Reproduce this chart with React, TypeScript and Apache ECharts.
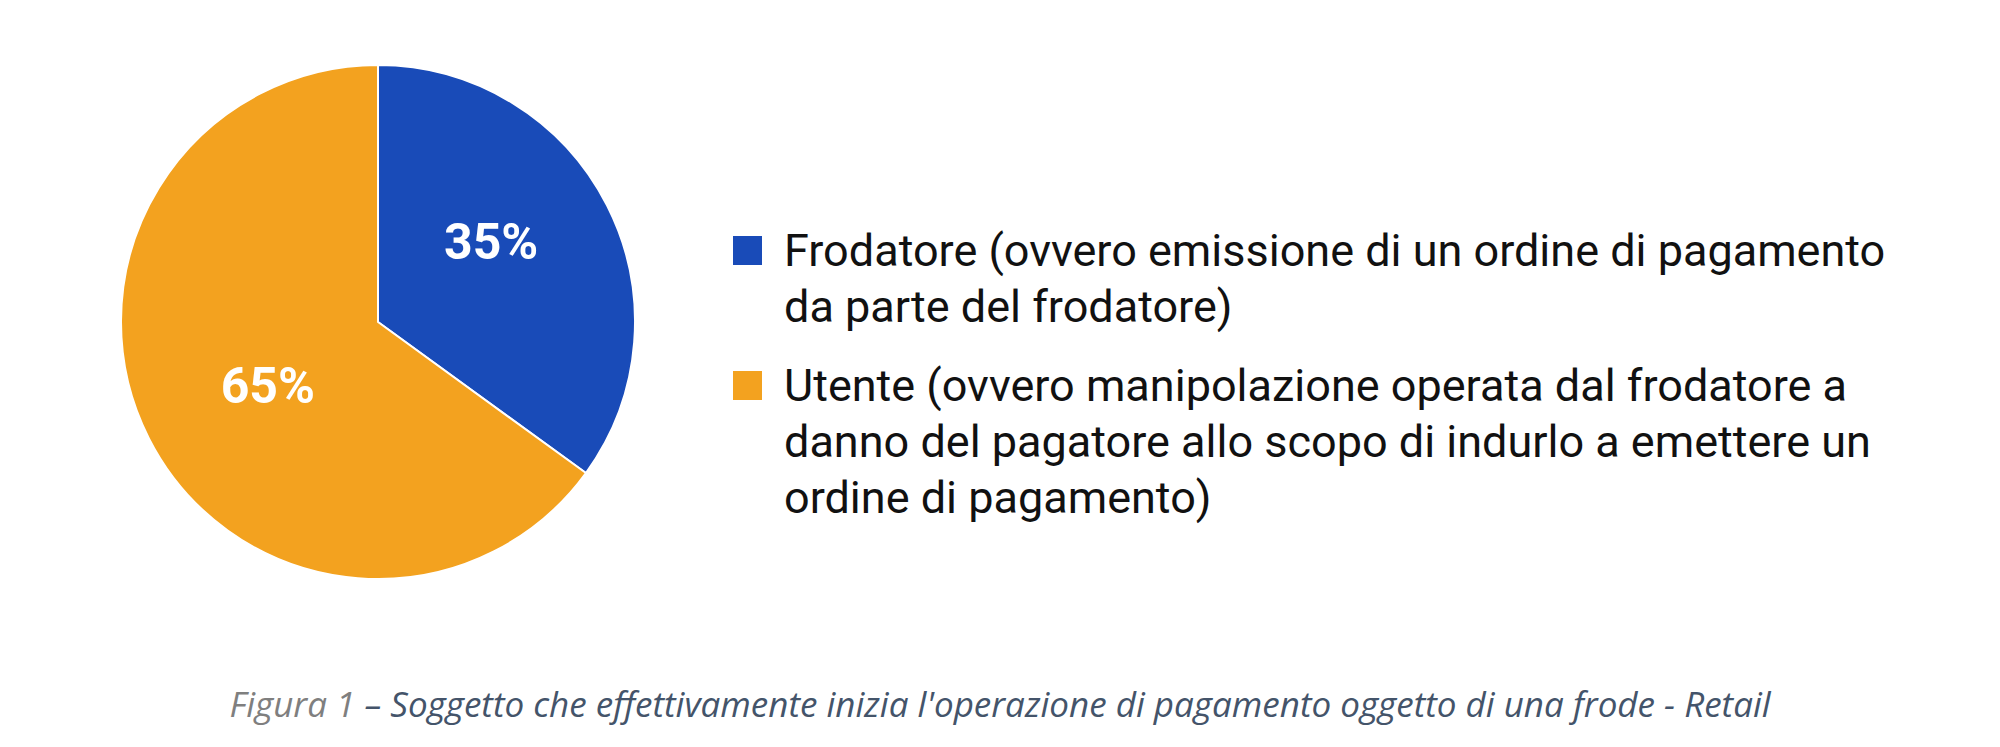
import React, { useEffect, useRef } from "react";
import * as echarts from "echarts";

const categories = [
  "Frodatore (ovvero emissione di un ordine di pagamento\nda parte del frodatore)",
  "Utente (ovvero manipolazione operata dal frodatore a\ndanno del pagatore allo scopo di indurlo a emettere un\nordine di pagamento)",
];
const values = [35, 65];
const colors = ["#194bb8", "#f3a21f"];
const labelOffsets = [
  [-4, -20],
  [7, 4],
];
const captionLead = "Figura 1 ";
const captionRest =
  "– Soggetto che effettivamente inizia l'operazione di pagamento oggetto di una frode - Retail";

const LINE_H = 56;
const ICON = 31;

export default function App() {
  const ref = useRef<HTMLDivElement>(null);
  useEffect(() => {
    document.body.style.margin = "0";
    const chart = echarts.init(ref.current!, null, { renderer: "svg" });
    const legendTops = [235, 370];
    const legends = categories.map((name, i) => {
      const n = name.split("\n").length;
      const total = 2 * n - 1;
      const rectTop = ICON / 2 - (total * LINE_H) / 2;
      return {
        orient: "vertical",
        left: 731,
        top: legendTops[i] + rectTop,
        padding: 0,
        itemWidth: ICON,
        itemHeight: ICON,
        icon: "rect",
        selectedMode: false,
        data: [name],
        formatter: (nm: string) => "\n".repeat(n - 1) + nm,
        textStyle: {
          fontFamily: "Roboto",
          fontSize: 45,
          lineHeight: LINE_H,
          color: "#111111",
          padding: [0, 0, 0, 16],
        },
      };
    });
    const capStyle = {
      fontFamily: "Open Sans",
      fontStyle: "italic",
      fontWeight: "normal",
      fontSize: 35,
      lineHeight: 40,
    };
    chart.setOption({
      animation: false,
      color: colors,
      title: {
        text: `{a|${captionLead}}{b|${captionRest}}`,
        left: "center",
        top: 683,
        padding: 0,
        textStyle: {
          fontWeight: "normal",
          rich: {
            a: { ...capStyle, color: "#7f7f7f" },
            b: { ...capStyle, color: "#44546a" },
          },
        },
      },
      legend: legends,
      series: [
        {
          type: "pie",
          center: [378, 322],
          radius: 257,
          startAngle: 90,
          clockwise: true,
          itemStyle: { borderColor: "#ffffff", borderWidth: 2 },
          label: {
            show: true,
            position: "inside",
            formatter: "{c}%",
            fontFamily: "Roboto",
            fontWeight: "bold",
            fontSize: 50,
            color: "#ffffff",
          },
          labelLine: { show: false },
          emphasis: { disabled: true },
          data: categories.map((name, i) => ({
            name,
            value: values[i],
            itemStyle: { color: colors[i] },
            label: { offset: labelOffsets[i] },
          })),
        },
      ],
    });
    return () => chart.dispose();
  }, []);
  return <div ref={ref} style={{ width: 2000, height: 747 }} />;
}
